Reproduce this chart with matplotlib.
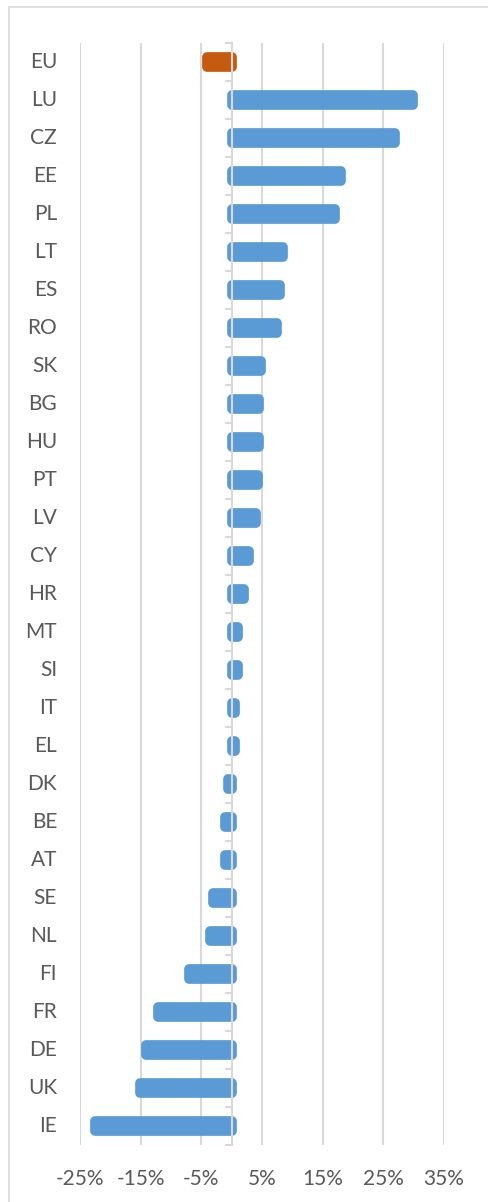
import matplotlib.pyplot as plt
from matplotlib.patches import Rectangle

# data (percent change)
countries = ['EU', 'LU', 'CZ', 'EE', 'PL', 'LT', 'ES', 'RO', 'SK', 'BG',
             'HU', 'PT', 'LV', 'CY', 'HR', 'MT', 'SI', 'IT', 'EL', 'DK',
             'BE', 'AT', 'SE', 'NL', 'FI', 'FR', 'DE', 'UK', 'IE']
values = [-4.0, 29.9, 27.0, 18.0, 17.0, 8.5, 8.0, 7.4, 4.8, 4.5,
          4.5, 4.4, 4.0, 2.9, 2.1, 1.0, 1.0, 0.6, 0.6, -0.6,
          -1.1, -1.1, -3.0, -3.6, -7.1, -12.1, -14.1, -15.1, -22.6]
xticks = [-25, -15, -5, 5, 15, 25, 35]
xticklabels = ['-25%', '-15%', '-5%', '5%', '15%', '25%', '35%']

BLUE = '#5B9BD5'
ORANGE = '#C55A11'
GRID = '#D9D9D9'
TEXT = '#595959'

plt.rcParams['font.family'] = ['Lato', 'DejaVu Sans']

W, H = 489, 1202
fig = plt.figure(figsize=(W / 100, H / 100), dpi=100)
ax = fig.add_axes([80 / W, 1 - 1145 / H, (444 - 80) / W, (1145 - 43) / H])

n = len(countries)
ypos = list(range(n))
colors = [ORANGE if c == 'EU' else BLUE for c in countries]

# thick same-colour edge with round joins gives the rounded bar ends
ax.barh(ypos, values, height=0.27, color=colors, edgecolor=colors,
        linewidth=7.0, joinstyle='round', zorder=2)

ax.set_xlim(-25, 35)
ax.set_ylim(n - 0.5, -0.5)
ax.set_xticks(xticks)
ax.set_xticklabels(xticklabels)
ax.tick_params(axis='x', length=0, pad=17, labelsize=15, labelcolor=TEXT)
ax.grid(axis='x', color=GRID, linewidth=1.5, zorder=0)
ax.set_axisbelow(True)

# category axis sits on zero, labels stay at the low end
for s in ['top', 'right', 'bottom']:
    ax.spines[s].set_visible(False)
ax.spines['left'].set_position(('data', 0))
ax.spines['left'].set_color(GRID)
ax.spines['left'].set_linewidth(1.5)
ax.spines['left'].set_zorder(3)
ax.set_yticks(ypos)
ax.set_yticklabels([])
ax.tick_params(axis='y', which='major', length=0)
ax.set_yticks([i - 0.5 for i in range(n + 1)], minor=True)
ax.tick_params(axis='y', which='minor', length=5, width=1.5, color=GRID,
               direction='out')

for y, c in zip(ypos, countries):
    ax.text(-23 / 364, y, c, transform=ax.get_yaxis_transform(),
            ha='right', va='center', fontsize=15, color=TEXT)

# chart frame (right and bottom edges fall outside the image)
fig.patches.append(Rectangle((9 / W, -0.05), 2, 1 - 7 / H + 0.05,
                             transform=fig.transFigure, fill=False,
                             edgecolor=GRID, linewidth=1.2))

fig.savefig('out.png', dpi=100)
